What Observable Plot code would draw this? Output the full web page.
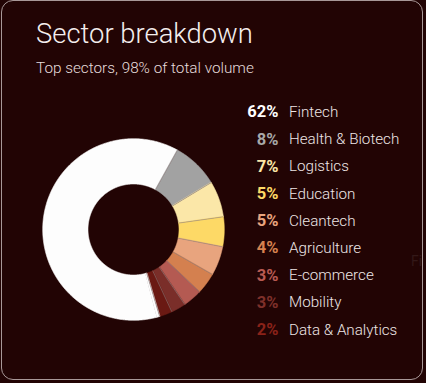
<!DOCTYPE html>
<html>
<head>
<meta charset="utf-8">
<script src="https://cdn.jsdelivr.net/npm/d3@7"></script>
<script src="https://cdn.jsdelivr.net/npm/@observablehq/plot@0.6"></script>
<style>
  html, body { margin: 0; padding: 0; background: #220404; width: 426px; height: 383px; overflow: hidden; }
  body { position: relative; font-family: Roboto, "Noto Sans", sans-serif; }
  #card { position: absolute; left: 1px; top: 0px; width: 420px; height: 378px; border: 1px solid #a89898; border-radius: 12px; box-sizing: content-box; overflow: hidden; }
  #title { position: absolute; left: 36px; top: 20px; font-size: 27.4px; line-height: 28px; font-weight: 300; color: #f4eeee; white-space: nowrap; }
  #subtitle { position: absolute; left: 36px; top: 61px; font-size: 15.3px; line-height: 15px; font-weight: 300; color: #e6dcdc; white-space: nowrap; }
  #ghost { position: absolute; left: 409px; top: 253px; font-size: 14px; line-height: 15px; color: #331818; white-space: nowrap; }
  #chart { position: absolute; left: 0; top: 88px; }
</style>
</head>
<body>
<div id="card"><div id="ghost">Fintech</div></div>
<div id="title">Sector breakdown</div>
<div id="subtitle">Top sectors, 98% of total volume</div>
<div id="chart"></div>
<script>
// ---- data ----
const sectors = ["Fintech", "Health & Biotech", "Logistics", "Education", "Cleantech", "Agriculture", "E-commerce", "Mobility", "Data & Analytics"];
const pctLabels = [62, 8, 7, 5, 5, 4, 3, 3, 2];
const shares = [62.2, 8.3, 6.4, 5.3, 5.2, 3.8, 3.4, 2.6, 2.3];
const remainderShare = 0.5;
const sliceColors = ["#fdfdfd", "#a2a2a2", "#fbe7a8", "#fdd966", "#e8a47e", "#d4804f", "#b45a52", "#7a2e29", "#6a1913"];
const pctColors = ["#ffffff", "#a8a8a8", "#fbe7a8", "#fdd966", "#e9a47e", "#d6824f", "#b85a52", "#7e302a", "#8a2219"];

// ---- layout ----
const W = 426, H = 292, TOP = 88;
const CX = 133, CY = 229, R_OUT = 90.8, R_IN = 45.5;
const START = 165.1; // degrees clockwise from north
const PCT_X = 278, LABEL_X = 288.5, ROW0 = 111.6, ROW_STEP = 27.2;

const slices = sectors.map((s, i) => ({key: s, share: shares[i], color: sliceColors[i]}));
slices.push({key: "Other", share: remainderShare, color: "#fdfdfd"});

const toXY = (deg, r) => {
  const a = deg * Math.PI / 180;
  return [CX + r * Math.sin(a), CY - r * Math.cos(a)];
};

const pts = [];
const bounds = [];
let acc = 0;
for (const s of slices) {
  const a0 = START + acc / 100 * 360;
  acc += s.share;
  const a1 = START + acc / 100 * 360;
  const n = Math.max(2, Math.ceil((a1 - a0) / 0.5));
  for (let k = 0; k <= n; k++) {
    const [x, y] = toXY(a0 + (a1 - a0) * k / n, R_OUT);
    pts.push({key: s.key, x, y, color: s.color});
  }
  for (let k = n; k >= 0; k--) {
    const [x, y] = toXY(a0 + (a1 - a0) * k / n, R_IN);
    pts.push({key: s.key, x, y, color: s.color});
  }
  if (s.key !== "Fintech" && s.key !== "Other") {
    const [x1, y1] = toXY(a0, R_IN);
    const [x2, y2] = toXY(a0, R_OUT);
    bounds.push({x1, y1, x2, y2});
  }
}
{ // boundary between last named slice and remainder
  const a = START + (100 - remainderShare) / 100 * 360;
  const [x1, y1] = toXY(a, R_IN);
  const [x2, y2] = toXY(a, R_OUT);
  bounds.push({x1, y1, x2, y2});
}

const rows = sectors.map((s, i) => ({
  label: s,
  pct: pctLabels[i] + "%",
  color: pctColors[i],
  y: ROW0 + i * ROW_STEP
}));

const chart = Plot.plot({
  width: W,
  height: H,
  margin: 0,
  style: {background: "transparent", fontFamily: "Roboto, 'Noto Sans', sans-serif", overflow: "visible"},
  x: {domain: [0, W], range: [0, W], axis: null},
  y: {domain: [TOP, TOP + H], range: [0, H], axis: null},
  color: {type: "identity"},
  marks: [
    Plot.line(pts, {x: "x", y: "y", z: "key", fill: "color", stroke: "color", strokeWidth: 0.6, curve: "linear-closed"}),
    Plot.link(bounds, {x1: "x1", y1: "y1", x2: "x2", y2: "y2", stroke: "#8e8080", strokeWidth: 0.8, strokeOpacity: 0.7}),
    Plot.text(rows, {x: () => PCT_X, y: "y", text: "pct", fill: "color", textAnchor: "end", fontSize: 16.5, fontWeight: 700}),
    Plot.text(rows, {x: () => LABEL_X, y: "y", text: "label", fill: "#eee6e6", textAnchor: "start", fontSize: 15.2, fontWeight: 300})
  ]
});
document.getElementById("chart").appendChild(chart);
</script>
</body>
</html>
